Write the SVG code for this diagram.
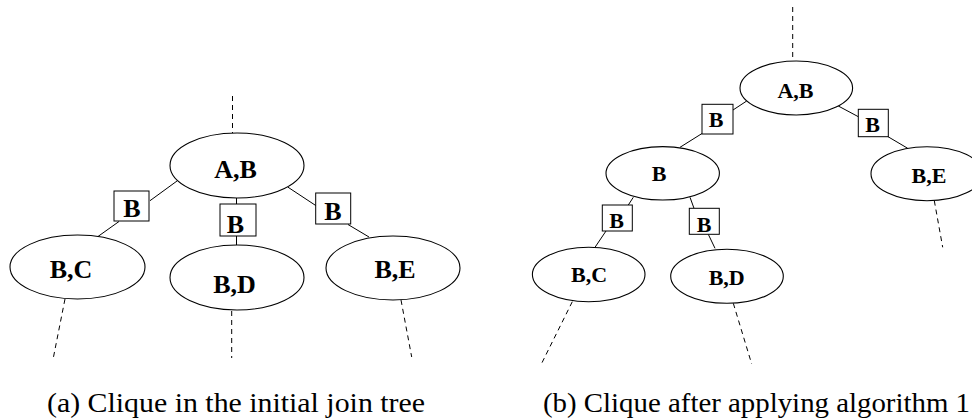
<svg xmlns="http://www.w3.org/2000/svg" width="972" height="419" viewBox="0 0 972 419">
<style>
.n{fill:#fff;stroke:#000;stroke-width:1.1}
.s{fill:#fff;stroke:#000;stroke-width:1}
.e{stroke:#000;stroke-width:1;fill:none}
.d{stroke:#000;stroke-width:1;fill:none;stroke-dasharray:5,4}
.t{font-family:"Liberation Serif","Times New Roman",serif;font-weight:bold;text-anchor:middle;fill:#000}
.L{font-size:26px}
.R{font-size:22px}
.cap{font-family:"Liberation Serif","Times New Roman",serif;font-size:27px;fill:#000}
</style>
<rect width="972" height="419" fill="#fff"/>
<g id="connectors">
<line class="d" x1="232.5" y1="96" x2="232.5" y2="133"/>
<line class="e" x1="177" y1="181" x2="150" y2="200.7"/>
<line class="e" x1="119" y1="221.5" x2="97.7" y2="236.7"/>
<line class="e" x1="236.5" y1="198" x2="236.5" y2="204"/>
<line class="e" x1="236.5" y1="236" x2="236.5" y2="245"/>
<line class="e" x1="287.7" y1="187" x2="316" y2="205.7"/>
<line class="e" x1="348" y1="224.5" x2="369" y2="237"/>
<line class="d" x1="65" y1="299" x2="53.3" y2="358"/>
<line class="d" x1="231.7" y1="311" x2="231.7" y2="358"/>
<line class="d" x1="401" y1="300" x2="411.7" y2="357"/>
<line class="d" x1="792.7" y1="7" x2="792.7" y2="61"/>
<line class="e" x1="746.7" y1="101" x2="733" y2="110"/>
<line class="e" x1="702" y1="133.5" x2="680" y2="147.3"/>
<line class="e" x1="838.3" y1="106" x2="858.3" y2="116.7"/>
<line class="e" x1="887.7" y1="136.5" x2="907.7" y2="148.3"/>
<line class="e" x1="633.3" y1="197.3" x2="628.3" y2="205"/>
<line class="e" x1="606" y1="231" x2="595" y2="247.3"/>
<line class="e" x1="690" y1="197.3" x2="694" y2="208.3"/>
<line class="e" x1="708.3" y1="234.3" x2="715" y2="248.3"/>
<line class="d" x1="572.3" y1="301.7" x2="541.7" y2="363.3"/>
<line class="d" x1="733.3" y1="303.3" x2="751.7" y2="364"/>
<line class="d" x1="934.3" y1="200.7" x2="942.7" y2="247.3"/>
</g>
<g id="a-AB"><ellipse class="n" cx="237" cy="165.5" rx="67" ry="32.5"/><text class="t L" x="235.5" y="178">A,B</text></g>
<g id="a-sep1"><rect class="s" x="114" y="191" width="35" height="30"/><text class="t L" x="132" y="217.3">B</text></g>
<g id="a-sep2"><rect class="s" x="220" y="204" width="36" height="32"/><text class="t L" x="235.5" y="232.7">B</text></g>
<g id="a-sep3"><rect class="s" x="315.7" y="193" width="35" height="31"/><text class="t L" x="333" y="220">B</text></g>
<g id="a-BC"><ellipse class="n" cx="77.5" cy="267" rx="67.5" ry="32"/><text class="t L" x="71" y="278">B,C</text></g>
<g id="a-BD"><ellipse class="n" cx="237" cy="277.5" rx="67" ry="32.5"/><text class="t L" x="234.5" y="292.5">B,D</text></g>
<g id="a-BE"><ellipse class="n" cx="393" cy="268" rx="67" ry="32"/><text class="t L" x="395" y="278">B,E</text></g>
<g id="b-AB"><ellipse class="n" cx="796.3" cy="88" rx="56.3" ry="27"/><text class="t R" x="795.5" y="97.5">A,B</text></g>
<g id="b-sep1"><rect class="s" x="702" y="104.3" width="31" height="29.7"/><text class="t R" x="716" y="127.3">B</text></g>
<g id="b-sep2"><rect class="s" x="858.3" y="109.3" width="30" height="27.4"/><text class="t R" x="872.5" y="131.7">B</text></g>
<g id="b-B"><ellipse class="n" cx="662.7" cy="173.3" rx="56.7" ry="26.7"/><text class="t R" x="659" y="180.5">B</text></g>
<g id="b-BE"><ellipse class="n" cx="927" cy="173.7" rx="56" ry="27"/><text class="t R" x="929" y="182.7">B,E</text></g>
<g id="b-sep3"><rect class="s" x="602.3" y="205" width="30" height="26"/><text class="t R" x="616.7" y="228.3">B</text></g>
<g id="b-sep4"><rect class="s" x="689.3" y="208.3" width="30" height="26"/><text class="t R" x="704" y="231.7">B</text></g>
<g id="b-BC"><ellipse class="n" cx="588.7" cy="274.5" rx="56.3" ry="27.2"/><text class="t R" x="589" y="281.7">B,C</text></g>
<g id="b-BD"><ellipse class="n" cx="727" cy="276.3" rx="56.3" ry="27"/><text class="t R" x="726.7" y="285">B,D</text></g>
<text class="cap" x="47" y="412" textLength="378" lengthAdjust="spacingAndGlyphs">(a) Clique in the initial join tree</text>
<text class="cap" x="543" y="412" textLength="427" lengthAdjust="spacingAndGlyphs">(b) Clique after applying algorithm 1</text>
</svg>
